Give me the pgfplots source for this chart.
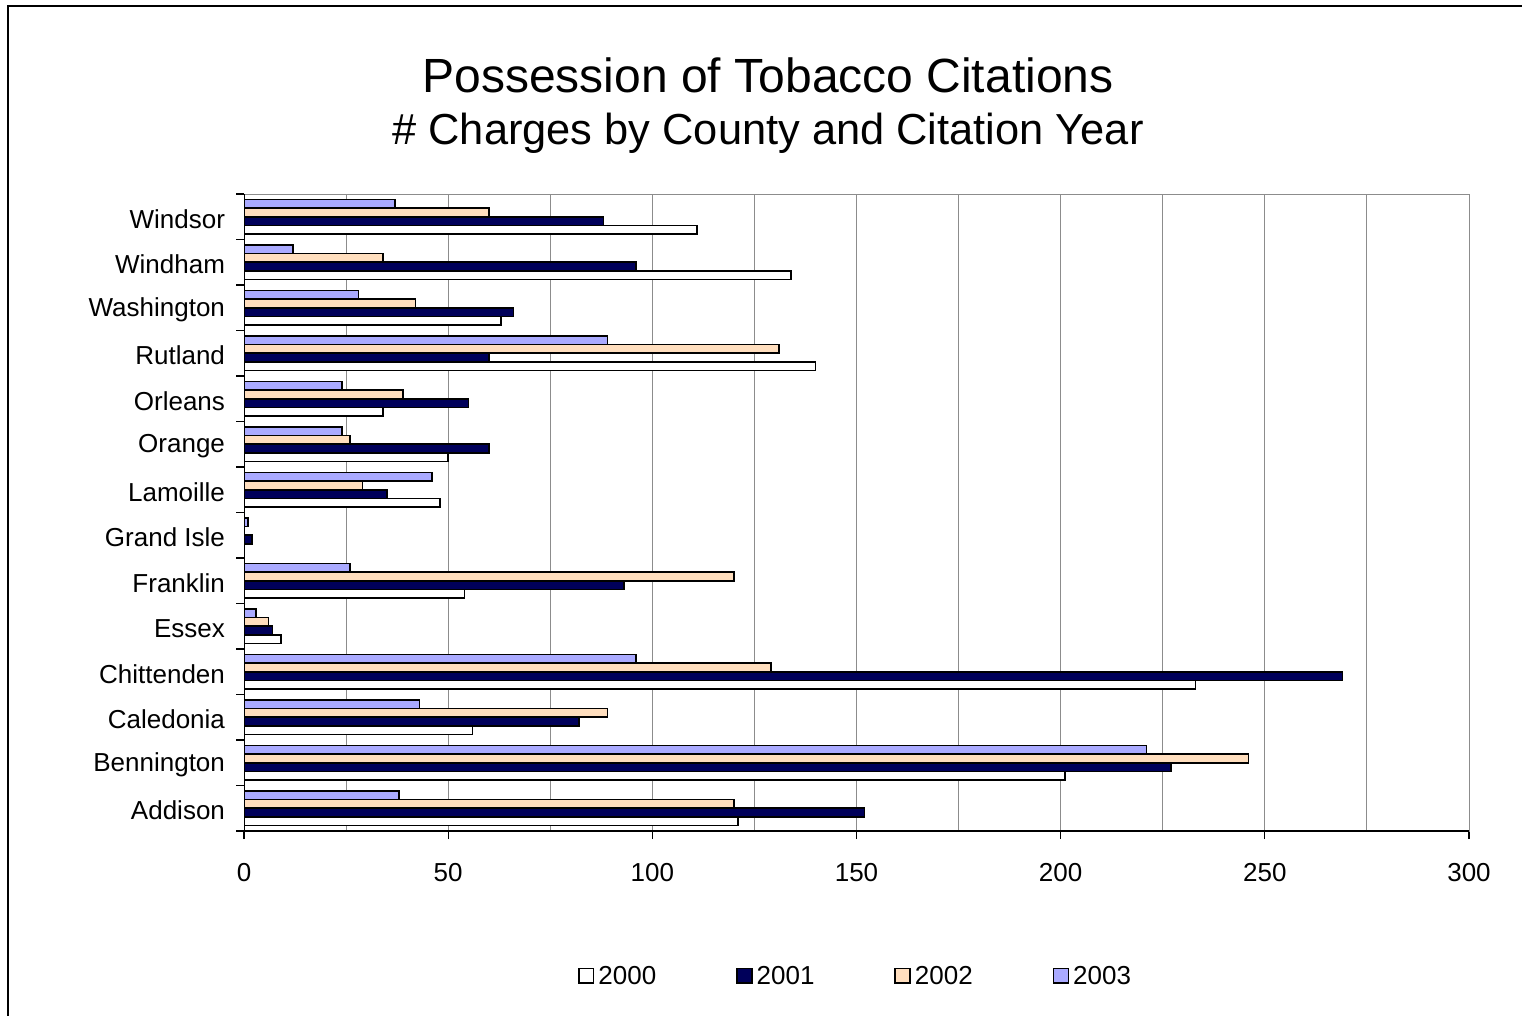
\documentclass[border=0pt]{standalone}
\usepackage{pgfplots}
\pgfplotsset{compat=1.18}
\usepackage{fontspec}
\setmainfont{Liberation Sans}
\definecolor{c2000}{RGB}{255,255,255}
\definecolor{c2001}{RGB}{0,0,90}
\definecolor{c2002}{RGB}{255,222,190}
\definecolor{c2003}{RGB}{170,170,255}
\definecolor{gridgray}{RGB}{140,140,140}
\begin{document}
\begin{tikzpicture}
\useasboundingbox (0pt,0pt) rectangle (761pt,-508pt);
\draw[line width=1.2pt] (4pt,-508pt) -- (4pt,-3pt) -- (761pt,-3pt);
\node[anchor=center] at (384pt,-37.5pt) {\fontsize{24}{28}\selectfont Possession of Tobacco Citations};
\node[anchor=center] at (384pt,-66.5pt) {\fontsize{21.7}{25}\selectfont \# Charges by County and Citation Year};
\begin{axis}[
  at={(122pt,-415.5pt)}, anchor=south west,
  scale only axis, width=612.5pt, height=318.5pt,
  xbar, bar width=0.19,
  xmin=0, xmax=300, ymin=-0.5, ymax=13.5,
  xtick={0,50,...,300},
  minor xtick={25,75,...,275},
  xmajorgrids, xminorgrids,
  major grid style={gridgray, line width=0.5pt},
  minor grid style={gridgray, line width=0.5pt},
  ytick={-0.5,0.5,...,13.5},
  y tick label as interval,
  yticklabels={Addison,Bennington,Caledonia,Chittenden,Essex,Franklin,Grand Isle,Lamoille,Orange,Orleans,Rutland,Washington,Windham,Windsor},
  xtick pos=bottom, ytick pos=left,
  tick align=outside,
  major tick length=4pt,
  minor x tick style={draw=none},
  tick style={black, line width=0.6pt},
  axis line style={gridgray, line width=0.5pt},
  tick label style={font=\fontsize{13}{15}\selectfont},
  /pgf/number format/assume math mode=true,
  xticklabel style={yshift=-8.5pt},
  yticklabel style={xshift=-2pt, yshift=-1pt},
  legend columns=4,
  legend style={draw=none, at={(0.5,-0.229)}, anchor=center, font=\fontsize{13}{15}\selectfont,
    /tikz/every even column/.append style={column sep=38pt}},
  legend image code/.code={\draw[#1, line width=0.8pt] (0pt,-3.2pt) rectangle (7.4pt,4.2pt);},
  every axis plot/.append style={draw=black, line width=0.8pt},
]
\addplot[fill=c2000, bar shift=-0.285] coordinates {(121,0) (201,1) (56,2) (233,3) (9,4) (54,5) (0,6) (48,7) (50,8) (34,9) (140,10) (63,11) (134,12) (111,13)};
\addplot[fill=c2001, bar shift=-0.095] coordinates {(152,0) (227,1) (82,2) (269,3) (7,4) (93,5) (2,6) (35,7) (60,8) (55,9) (60,10) (66,11) (96,12) (88,13)};
\addplot[fill=c2002, bar shift=0.095] coordinates {(120,0) (246,1) (89,2) (129,3) (6,4) (120,5) (0,6) (29,7) (26,8) (39,9) (131,10) (42,11) (34,12) (60,13)};
\addplot[fill=c2003, bar shift=0.285] coordinates {(38,0) (221,1) (43,2) (96,3) (3,4) (26,5) (1,6) (46,7) (24,8) (24,9) (89,10) (28,11) (12,12) (37,13)};
\legend{2000,2001,2002,2003}
\draw[black, line width=0.8pt] (rel axis cs:0,0) -- (rel axis cs:0,1);
\draw[black, line width=0.8pt] (rel axis cs:0,0) -- (rel axis cs:1,0);
\end{axis}
\end{tikzpicture}
\end{document}
